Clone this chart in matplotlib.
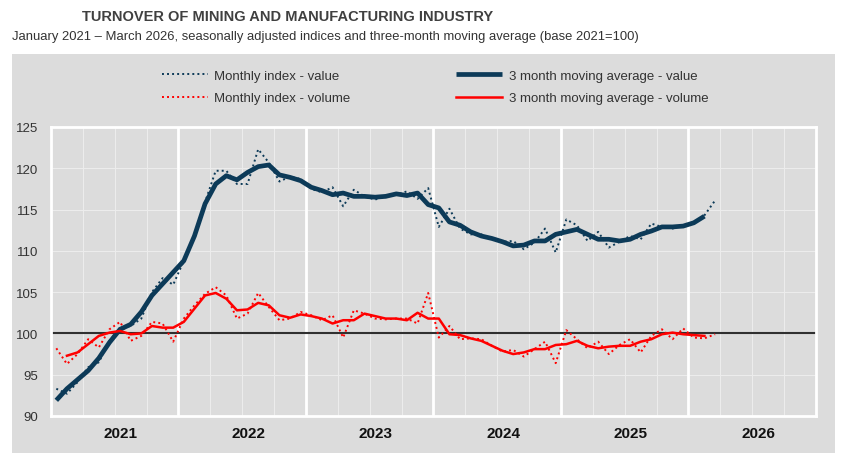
import numpy as np
import matplotlib
matplotlib.use("Agg")
import matplotlib.pyplot as plt
from matplotlib.patches import Rectangle

plt.rcParams['font.family'] = ['Liberation Sans', 'DejaVu Sans']

# Jan 2021 .. Mar 2026, one value per month
value_monthly = [93.3, 92.7, 94.1, 95.9, 96.5, 99.1, 100.7, 100.9, 101.8, 105.0, 106.7, 105.9,
                 108.8, 112.0, 115.9, 119.7, 119.7, 118.1, 118.1, 122.3, 120.7, 118.4, 119.0, 118.7,
                 117.5, 117.1, 117.7, 115.4, 117.4, 116.6, 116.2, 116.7, 116.8, 117.2, 116.3, 117.6,
                 112.9, 115.1, 112.7, 112.0, 112.0, 111.4, 111.1, 111.2, 110.2, 111.0, 112.7, 109.8,
                 113.8, 113.1, 111.2, 112.3, 110.4, 111.1, 111.8, 111.4, 113.3, 112.9, 112.7, 113.1,
                 113.3, 114.3, 116.1]
value_ma = [91.9, 93.3, 94.4, 95.5, 97.0, 98.9, 100.5, 101.1, 102.6, 104.6, 106.0, 107.4,
            108.8, 111.8, 115.7, 118.1, 119.1, 118.6, 119.5, 120.2, 120.4, 119.2, 118.9, 118.5,
            117.7, 117.3, 116.8, 117.0, 116.6, 116.6, 116.5, 116.6, 116.9, 116.7, 117.0, 115.6,
            115.2, 113.5, 113.1, 112.3, 111.8, 111.5, 111.1, 110.6, 110.7, 111.2, 111.2, 112.0,
            112.3, 112.6, 112.0, 111.4, 111.4, 111.2, 111.4, 112.0, 112.4, 112.9, 112.9, 113.0,
            113.4, 114.2]
volume_monthly = [98.2, 96.3, 97.5, 99.3, 98.3, 100.5, 101.4, 99.1, 99.7, 101.4, 101.2, 99.0,
                  101.8, 103.4, 104.8, 105.6, 104.6, 101.8, 102.4, 104.9, 103.2, 101.6, 101.8, 102.6,
                  102.2, 101.6, 102.2, 99.5, 102.8, 102.4, 101.8, 101.7, 101.8, 101.8, 101.2, 104.9,
                  99.5, 100.9, 99.3, 99.4, 99.3, 98.5, 97.8, 98.0, 97.2, 98.1, 99.0, 96.4,
                  100.4, 99.3, 98.2, 99.0, 97.5, 98.6, 99.3, 97.7, 99.7, 100.5, 99.3, 100.6,
                  99.5, 99.4, 99.9]
# starts Feb 2021
volume_ma = [97.3, 97.7, 98.7, 99.7, 100.1, 100.3, 99.9, 100.0, 100.9, 100.7, 100.7,
             101.4, 103.0, 104.6, 104.9, 104.2, 102.8, 102.9, 103.7, 103.4, 102.2, 101.9, 102.3,
             102.1, 101.8, 101.2, 101.6, 101.6, 102.4, 102.1, 101.8, 101.8, 101.6, 102.5, 101.8,
             101.8, 99.9, 99.8, 99.4, 99.1, 98.5, 97.9, 97.5, 97.7, 98.1, 98.1, 98.6,
             98.7, 99.1, 98.5, 98.2, 98.4, 98.5, 98.5, 99.0, 99.3, 99.9, 100.1, 99.9,
             99.8, 99.7]
years = ['2021', '2022', '2023', '2024', '2025', '2026']
yticks = [90, 95, 100, 105, 110, 115, 120, 125]

navy = '#0c3a58'
red = '#ff0000'
grey = '#dcdcdc'

fig = plt.figure(figsize=(8.53, 4.77), dpi=100)
fig.patch.set_facecolor('white')
fig.patches.append(Rectangle((12/853, 23/477), 823/853, 399/477, transform=fig.transFigure,
                             facecolor=grey, edgecolor='none', zorder=0))

ax = fig.add_axes([51/853, 60/477, 765/853, 289/477])
ax.set_zorder(2)
ax.set_facecolor(grey)

x_m = np.arange(len(value_monthly)) + 0.5
x_vma = np.arange(len(value_ma)) + 0.5
x_wma = np.arange(len(volume_ma)) + 1.5

# grid
for q in range(3, 72, 3):
    if q % 12:
        ax.axvline(q, color='#ececec', lw=0.8, zorder=1)
for y in yticks[1:-1]:
    ax.axhline(y, color='#ececec', lw=0.8, zorder=1)
for yr in range(12, 72, 12):
    ax.axvline(yr, color='white', lw=2, zorder=1)
ax.axhline(100, color='#303030', lw=1.5, zorder=2)

dots = (0, (1, 1.6))
ax.plot(x_m, value_monthly, color=navy, lw=1.4, ls=dots, zorder=3, label='Monthly index - value')
ax.plot(x_vma, value_ma, color=navy, lw=3.4, zorder=4, solid_capstyle='butt',
        label='3 month moving average - value')
ax.plot(x_m, volume_monthly, color=red, lw=1.4, ls=dots, zorder=3, label='Monthly index - volume')
ax.plot(x_wma, volume_ma, color=red, lw=1.8, zorder=4, label='3 month moving average - volume')

ax.set_xlim(0, 72)
ax.set_ylim(90, 125)
ax.set_yticks(yticks)
ax.set_yticklabels([str(v) for v in yticks], fontsize=9.5, color='#333333')
ax.tick_params(axis='y', length=0, pad=9)
ax.set_xticks([6.55 + 12 * k for k in range(6)])
ax.set_xticklabels(years, fontsize=11, fontweight='bold', color='#111111')
ax.tick_params(axis='x', length=0, pad=7)
for s in ax.spines.values():
    s.set_color('white')
    s.set_linewidth(2)

handles, labels = ax.get_legend_handles_labels()
order = [0, 2, 1, 3]
leg = fig.legend([handles[i] for i in order], [labels[i] for i in order], ncol=2,
                 loc='center', bbox_to_anchor=(435/853, 1 - 88/477), frameon=False,
                 fontsize=9.5, handlelength=3.5, handletextpad=0.5, columnspacing=8,
                 labelspacing=0.75)
for t in leg.get_texts():
    t.set_color('#333333')

fig.text(82/853, 1 - 17/477, 'TURNOVER OF MINING AND MANUFACTURING INDUSTRY', fontsize=10.5,
         fontweight='bold', color='#404040', va='center', ha='left')
fig.text(12/853, 1 - 37/477,
         'January 2021 \u2013 March 2026, seasonally adjusted indices and three-month moving average (base 2021=100)',
         fontsize=9.4, color='#333333', va='center', ha='left')

fig.savefig('out.png', dpi=100)
